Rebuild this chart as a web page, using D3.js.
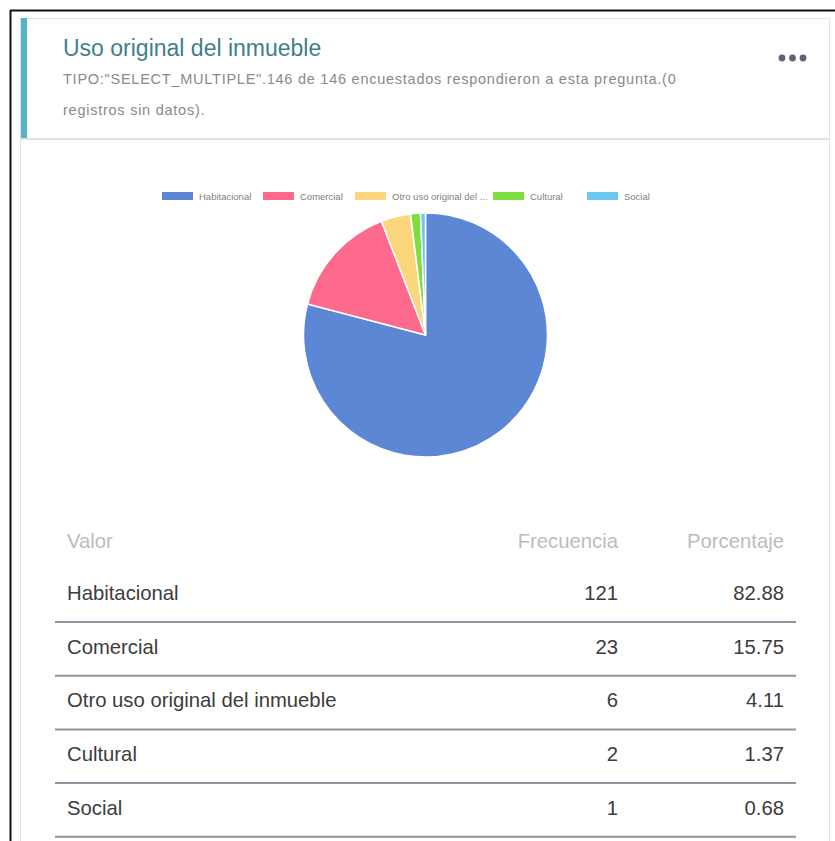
<!DOCTYPE html>
<html>
<head>
<meta charset="utf-8">
<script src="https://cdn.jsdelivr.net/npm/d3@7"></script>
<style>
  html, body { margin: 0; padding: 0; background: #fff; }
  svg { display: block; font-family: "Liberation Sans", Arial, sans-serif; }
</style>
</head>
<body>
<svg id="chart" width="835" height="841"></svg>
<script>
// Survey question: original use of the property
const categories = ["Habitacional", "Comercial", "Otro uso original del inmueble", "Cultural", "Social"];
const legendLabels = ["Habitacional", "Comercial", "Otro uso original del ...", "Cultural", "Social"];
const frequencies = [121, 23, 6, 2, 1];
const percentages = ["82.88", "15.75", "4.11", "1.37", "0.68"];
const colors = ["#5b87d5", "#fe6a8e", "#fad67c", "#7ede3f", "#6ac7f0"];
const tableHeaders = ["Valor", "Frecuencia", "Porcentaje"];
const titleText = "Uso original del inmueble";
const subtitleLines = [
  "TIPO:\"SELECT_MULTIPLE\".146 de 146 encuestados respondieron a esta pregunta.(0",
  "registros sin datos)."
];

const svg = d3.select("#chart");

// outer frame
svg.append("line").attr("x1", 10).attr("y1", 10.5).attr("x2", 835).attr("y2", 10.5)
  .attr("stroke", "#111").attr("stroke-width", 2);
svg.append("line").attr("x1", 10.5).attr("y1", 10).attr("x2", 10.5).attr("y2", 841)
  .attr("stroke", "#111").attr("stroke-width", 2);

// card
svg.append("rect").attr("x", 20.5).attr("y", 18.5).attr("width", 809).attr("height", 840)
  .attr("fill", "#fff").attr("stroke", "#e4e4e4").attr("stroke-width", 1);
svg.append("line").attr("x1", 21).attr("y1", 139).attr("x2", 829).attr("y2", 139)
  .attr("stroke", "#e2e2e2").attr("stroke-width", 2);
svg.append("rect").attr("x", 21).attr("y", 18).attr("width", 6).attr("height", 120)
  .attr("fill", "#53b6c4");

// header text
svg.append("text").attr("x", 63).attr("y", 56)
  .attr("font-size", 23).attr("fill", "#3f7f8b").text(titleText);
svg.selectAll("text.sub").data(subtitleLines).join("text").attr("class", "sub")
  .attr("x", 63).attr("y", (d, i) => 84 + i * 31)
  .attr("font-size", 14.5).attr("letter-spacing", 0.75)
  .attr("fill", "#8a8a8a").text(d => d);

// menu dots
svg.selectAll("circle.dot").data([0, 1, 2]).join("circle").attr("class", "dot")
  .attr("cx", d => 782 + d * 10.5).attr("cy", 58).attr("r", 3.4).attr("fill", "#5b6478");

// legend
const legendStarts = [162, 263, 355, 493, 587];
const legend = svg.append("g");
const items = legend.selectAll("g").data(legendLabels).join("g")
  .attr("transform", (d, i) => `translate(${legendStarts[i]},192)`);
items.append("rect").attr("width", 31).attr("height", 8).attr("fill", (d, i) => colors[i]);
items.append("text").attr("x", 37).attr("y", 7.8).attr("font-size", 9.5)
  .attr("fill", "#808080").text(d => d);

// pie
const cx = 425.5, cy = 335, radius = 122;
const pie = d3.pie().sort(null).value(d => d)(frequencies);
const arc = d3.arc().innerRadius(0).outerRadius(radius);
svg.append("g").attr("transform", `translate(${cx},${cy})`)
  .selectAll("path").data(pie).join("path")
  .attr("d", arc)
  .attr("fill", (d, i) => colors[i])
  .attr("stroke", "#fff").attr("stroke-width", 1.5).attr("stroke-linejoin", "round");

// frequency table
const colX = [67, 618, 784];
const headerY = 548;
const rowY0 = 600, rowStep = 53.7;
const fs = 20.3;
svg.selectAll("text.th").data(tableHeaders).join("text").attr("class", "th")
  .attr("x", (d, i) => colX[i]).attr("y", headerY)
  .attr("text-anchor", (d, i) => i === 0 ? "start" : "end")
  .attr("font-size", fs).attr("fill", "#bcbcbc").text(d => d);

const rows = svg.selectAll("g.row").data(categories).join("g").attr("class", "row")
  .attr("transform", (d, i) => `translate(0,${rowY0 + i * rowStep})`);
rows.append("text").attr("x", colX[0]).attr("font-size", fs).attr("fill", "#3c3c3c").text(d => d);
rows.append("text").attr("x", colX[1]).attr("text-anchor", "end").attr("font-size", fs)
  .attr("fill", "#3c3c3c").text((d, i) => frequencies[i]);
rows.append("text").attr("x", colX[2]).attr("text-anchor", "end").attr("font-size", fs)
  .attr("fill", "#3c3c3c").text((d, i) => percentages[i]);
rows.append("line").attr("x1", 55).attr("x2", 796).attr("y1", 22).attr("y2", 22)
  .attr("stroke", "#8d95a3").attr("stroke-width", 2);
</script>
</body>
</html>
